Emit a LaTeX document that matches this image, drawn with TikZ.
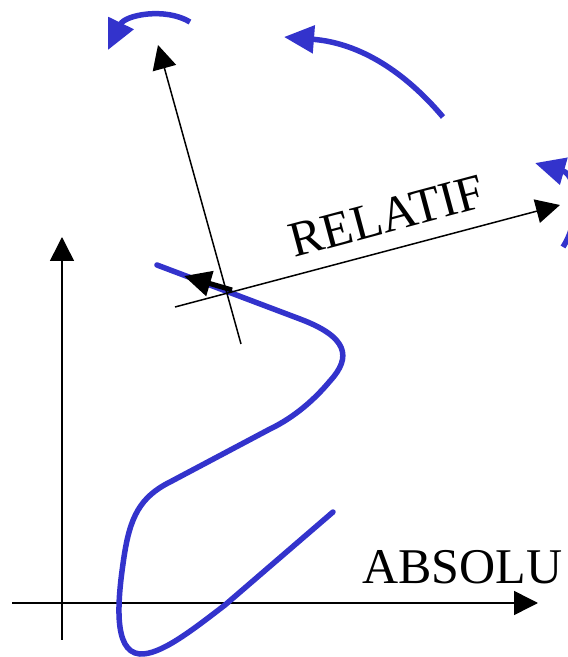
\documentclass[tikz,border=0pt]{standalone}
\usepackage{fontspec}
\setmainfont{Liberation Serif}
\usetikzlibrary{arrows.meta}
\definecolor{curveblue}{RGB}{51,51,204}
\tikzset{
  axis/.style={line width=1.5pt,-{Triangle[length=24pt,width=24pt]}},
  turn/.style={curveblue,line width=5.5pt,-{Triangle[length=30pt,width=27pt]}},
  frametext/.style={font=\fontsize{50}{60}\selectfont,inner sep=0pt}
}
\begin{document}
\begin{tikzpicture}[x=1pt,y=1pt]
  \useasboundingbox (0,0) rectangle (568,657);
  \draw[axis] (12,54) -- (538,54);
  \draw[axis] (62,17) -- (62,420);
  \node[frametext,anchor=base west] (absolu) at (362,74) {ABSOLU};
  \draw[curveblue,line width=5.5pt,line cap=round]
    (157,392) -- (300,338) .. controls (348,320) and (352,300) .. (330,276)
    .. controls (315,258) and (295,240) .. (270,228) -- (170,175)
    .. controls (140,160) and (130,140) .. (124,100)
    .. controls (118,60) and (112,5) .. (140,3)
    .. controls (160,2) and (190,25) .. (225,52) -- (333,145);
  \draw[axis] (175,350) -- (560,452);
  \draw[axis] (241,313) -- (158,612);
  \node[frametext,anchor=base,rotate=15] (relatif) at (391,425) {RELATIF};
  \draw[line width=5pt,-{Triangle[length=27pt,width=25pt]}] (232,367) -- (184,381);
  \draw[turn] (190,635) .. controls (165,650) and (125,642) .. (108,607);
  \draw[turn] (443,540) .. controls (405,585) and (360,614) .. (284,620);
  \draw[turn] (563,410) .. controls (582,440) and (577,482) .. (535,494);
\end{tikzpicture}
\end{document}
